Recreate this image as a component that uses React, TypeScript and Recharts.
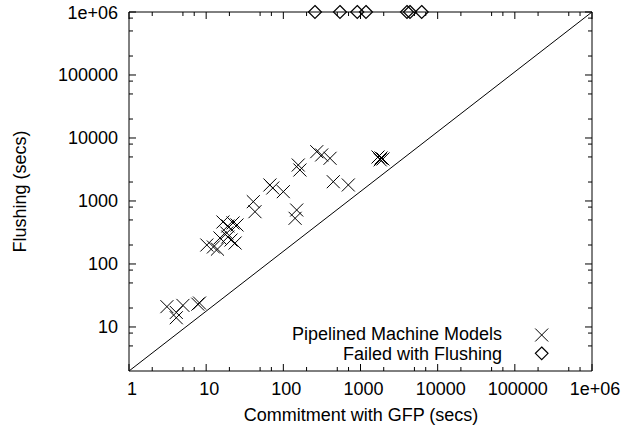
import React from "react"
import { ScatterChart, Scatter, XAxis, YAxis } from "recharts"

// Pipelined machine models: commitment time vs flushing time (secs)
const pipelinedX = [
  3.1, 4.1, 5.0, 4.1, 8.2, 7.8, 10.2, 12.4, 14, 16.5, 19.1, 22.3, 25.1, 18.5, 19.1,
  21.0, 23.7, 15.1, 40.8, 42.9, 67, 73, 100, 149, 142, 156, 164, 271, 314, 403, 444,
  695, 1686, 1846, 1955, 1800,
]
const pipelinedY = [
  21, 17, 22, 14, 24, 23, 200, 186, 172, 464, 401, 448, 416, 310, 268, 240, 215, 259,
  975, 676, 1795, 1607, 1406, 719, 531, 3724, 3103, 6064, 5373, 4761, 2023, 1795, 4990,
  4814, 4645, 4500,
]

// runs that failed with flushing, pinned to the top of the range
const failedX = [257, 542, 908, 1178, 4003, 4378, 6207]
const failedY = [1e6, 1e6, 1e6, 1e6, 1e6, 1e6, 1e6]

// reference diagonal, corner to corner
const diagonalX = [1, 1e6]
const diagonalY = [2, 1e6]

const decades = [1, 10, 100, 1000, 10000, 100000, 1000000]
const xMinorSteps = [2, 5, 7]
const yMinorSteps = [2, 5, 8]

const pipelined = pipelinedX.map((x, i) => ({ x, y: pipelinedY[i] }))
const failed = failedX.map((x, i) => ({ x, y: failedY[i] }))
const diagonal = diagonalX.map((x, i) => ({ x, y: diagonalY[i] }))

const FONT = "'Liberation Sans', Arial, Helvetica, sans-serif"

// plot box (margins + axis sizes below give this)
const PLOT = { left: 129, top: 12, width: 463, height: 359 }
const X_DOMAIN = [1, 1e6]
const Y_DOMAIN = [2, 1e6]

function isMajor(v: number) {
  const l = Math.log10(v)
  return Math.abs(l - Math.round(l)) < 1e-6
}

function buildTicks(steps: number[], min: number, max: number) {
  const out: number[] = []
  decades.forEach((d) => {
    out.push(d)
    steps.forEach((s) => out.push(d * s))
  })
  return out.filter((v) => v > min - 1e-9 && v <= max && (isMajor(v) || v > min)).sort((a, b) => a - b)
}

const fmt = (v: number) => (v >= 1e6 ? "1e+06" : String(v))

const xTicks = buildTicks(xMinorSteps, X_DOMAIN[0], X_DOMAIN[1])
const yTicks = buildTicks(yMinorSteps, Y_DOMAIN[0], Y_DOMAIN[1])

const tickLen = (v: any) => (v != null && isMajor(Number(v)) ? 7 : 4)

const BottomTick = (props: any) => {
  const { x, y, payload } = props
  const v = payload ? payload.value : null
  return (
    <g>
      <line x1={x} y1={y} x2={x} y2={y - tickLen(v)} stroke="#000" />
      {v != null && isMajor(v) && (
        <text x={x + 3} y={y + 24} textAnchor="middle" fontFamily={FONT} fontSize={18} fill="#000">
          {fmt(v)}
        </text>
      )}
    </g>
  )
}

const LeftTick = (props: any) => {
  const { x, y, payload } = props
  const v = payload ? payload.value : null
  return (
    <g>
      <line x1={x} y1={y} x2={x + tickLen(v)} y2={y} stroke="#000" />
      {v != null && isMajor(v) && (
        <text x={x - 11} y={y + 6.5} textAnchor="end" fontFamily={FONT} fontSize={18} fill="#000">
          {fmt(v)}
        </text>
      )}
    </g>
  )
}

const Cross = ({ cx, cy }: any) => (
  <path d={`M${cx - 6.5},${cy - 6.5}L${cx + 6.5},${cy + 6.5}M${cx - 6.5},${cy + 6.5}L${cx + 6.5},${cy - 6.5}`} stroke="#000" strokeWidth={1} fill="none" />
)

const Diamond = ({ cx, cy }: any) => (
  <path d={`M${cx},${cy - 6.5}L${cx + 6.5},${cy}L${cx},${cy + 6.5}L${cx - 6.5},${cy}Z`} stroke="#000" strokeWidth={1.2} fill="none" />
)

// log position inside the plot box, used only for the mirrored border ticks
const logFrac = (v: number, d: number[]) =>
  (Math.log10(v) - Math.log10(d[0])) / (Math.log10(d[1]) - Math.log10(d[0]))

// top/right border, mirrored ticks, axis titles and key, laid over the plot
function Overlay() {
  const right = PLOT.left + PLOT.width
  const bottom = PLOT.top + PLOT.height
  return (
    <svg width={623} height={431} style={{ position: "absolute", left: 0, top: 0, pointerEvents: "none" }}>
      <path d={`M${PLOT.left},${PLOT.top}L${right},${PLOT.top}L${right},${bottom}`} stroke="#000" fill="none" />
      {xTicks.map((v) => {
        const x = PLOT.left + PLOT.width * logFrac(v, X_DOMAIN)
        return <line key={"tx" + v} x1={x} y1={PLOT.top} x2={x} y2={PLOT.top + tickLen(v)} stroke="#000" />
      })}
      {yTicks.map((v) => {
        const y = bottom - PLOT.height * logFrac(v, Y_DOMAIN)
        return <line key={"ry" + v} x1={right} y1={y} x2={right - tickLen(v)} y2={y} stroke="#000" />
      })}
      <g fontFamily={FONT} fontSize={18} fill="#000">
        <text x={361} y={421} textAnchor="middle">Commitment with GFP (secs)</text>
        <text transform="translate(26, 191.5) rotate(-90)" textAnchor="middle">Flushing (secs)</text>
        <text x={502} y={339.5} textAnchor="end">Pipelined Machine Models</text>
        <text x={502} y={359.5} textAnchor="end">Failed with Flushing</text>
      </g>
      <path d="M535.2,328.5L548.2,341.5M535.2,341.5L548.2,328.5" stroke="#000" fill="none" />
      <path d="M541.7,347L548,353.3L541.7,359.6L535.4,353.3Z" stroke="#000" strokeWidth={1.2} fill="none" />
    </svg>
  )
}

export default function App() {
  return (
    <div style={{ position: "absolute", left: 0, top: 0, width: 623, height: 431 }}>
      <ScatterChart width={623} height={431} margin={{ top: 12, right: 31, bottom: 0, left: 0 }}>
        <XAxis
          xAxisId="bottom"
          orientation="bottom"
          dataKey="x"
          type="number"
          scale="log"
          domain={X_DOMAIN}
          ticks={xTicks}
          interval={0}
          tickSize={0}
          tickMargin={0}
          tick={<BottomTick />}
          height={60}
          axisLine={{ stroke: "#000" }}
        />
        <YAxis
          yAxisId="left"
          orientation="left"
          dataKey="y"
          type="number"
          scale="log"
          domain={Y_DOMAIN}
          ticks={yTicks}
          interval={0}
          tickSize={0}
          tickMargin={0}
          tick={<LeftTick />}
          width={129}
          axisLine={{ stroke: "#000" }}
        />
        <Scatter
          data={diagonal}
          xAxisId="bottom"
          yAxisId="left"
          line={{ stroke: "#000", strokeWidth: 1 }}
          shape={() => <g />}
          isAnimationActive={false}
        />
        <Scatter data={pipelined} xAxisId="bottom" yAxisId="left" shape={Cross} isAnimationActive={false} />
        <Scatter data={failed} xAxisId="bottom" yAxisId="left" shape={Diamond} isAnimationActive={false} />
      </ScatterChart>
      <Overlay />
    </div>
  )
}
